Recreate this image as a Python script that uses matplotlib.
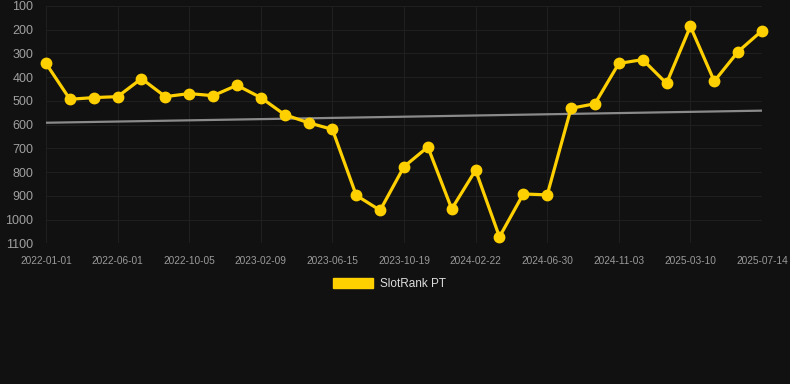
import matplotlib
matplotlib.use('Agg')
import matplotlib.pyplot as plt
from matplotlib.patches import Patch

ranks = [342, 493, 486, 482, 406, 482, 469, 478, 434, 486,
         558, 592, 620, 898, 961, 777, 694, 955, 792, 1073,
         892, 896, 531, 512, 342, 326, 426, 186, 417, 292, 204]
tick_labels = ['2022-01-01', '2022-06-01', '2022-10-05', '2023-02-09', '2023-06-15',
               '2023-10-19', '2024-02-22', '2024-06-30', '2024-11-03', '2025-03-10',
               '2025-07-14']
trend = [592, 541]
y_ticks = [100, 200, 300, 400, 500, 600, 700, 800, 900, 1000, 1100]
series_name = 'SlotRank PT'

BG = '#111111'
YELLOW = '#FFD000'
W, H = 790, 384

fig = plt.figure(figsize=(W / 100, H / 100), dpi=100, facecolor=BG)
ax = fig.add_axes([46 / W, 1 - 243.3 / H, (762 - 46) / W, (243.3 - 6) / H])
ax.set_facecolor(BG)

x = list(range(len(ranks)))
ax.plot([x[0], x[-1]], trend, color='#8a8a8a', lw=1.6, zorder=2, solid_capstyle='butt')
ax.plot(x, ranks, color=YELLOW, lw=2.3, marker='o', markersize=7.5,
        markerfacecolor=YELLOW, markeredgecolor=YELLOW, zorder=3, clip_on=False)

ax.set_xlim(0, len(ranks) - 1)
ax.set_ylim(1100, 100)
ax.set_yticks(y_ticks)
ax.set_yticklabels([str(v) for v in y_ticks])
tick_pos = list(range(0, len(ranks), 3))
ax.set_xticks(tick_pos)
ax.set_xticklabels(tick_labels)

for s in ax.spines.values():
    s.set_visible(False)
ax.grid(True, color='#1f1f1f', lw=0.8, zorder=0)
ax.tick_params(axis='y', length=0, pad=9, labelsize=9, labelcolor='#a0a0a0')
ax.tick_params(axis='x', length=0, pad=9.5, labelsize=7.3, labelcolor='#9a9a9a')
for lab in ax.get_xticklabels() + ax.get_yticklabels():
    lab.set_fontfamily('Liberation Sans')

leg = fig.legend(handles=[Patch(facecolor=YELLOW, edgecolor=YELLOW)], labels=[series_name],
                 loc='center', bbox_to_anchor=(389.5 / W, 1 - 284 / H),
                 frameon=False, handlelength=3.4, handleheight=1.0, handletextpad=0.6,
                 prop={'family': 'Liberation Sans', 'size': 8.5})
for t in leg.get_texts():
    t.set_color('#dddddd')

fig.savefig('out.png', dpi=100, facecolor=BG)
